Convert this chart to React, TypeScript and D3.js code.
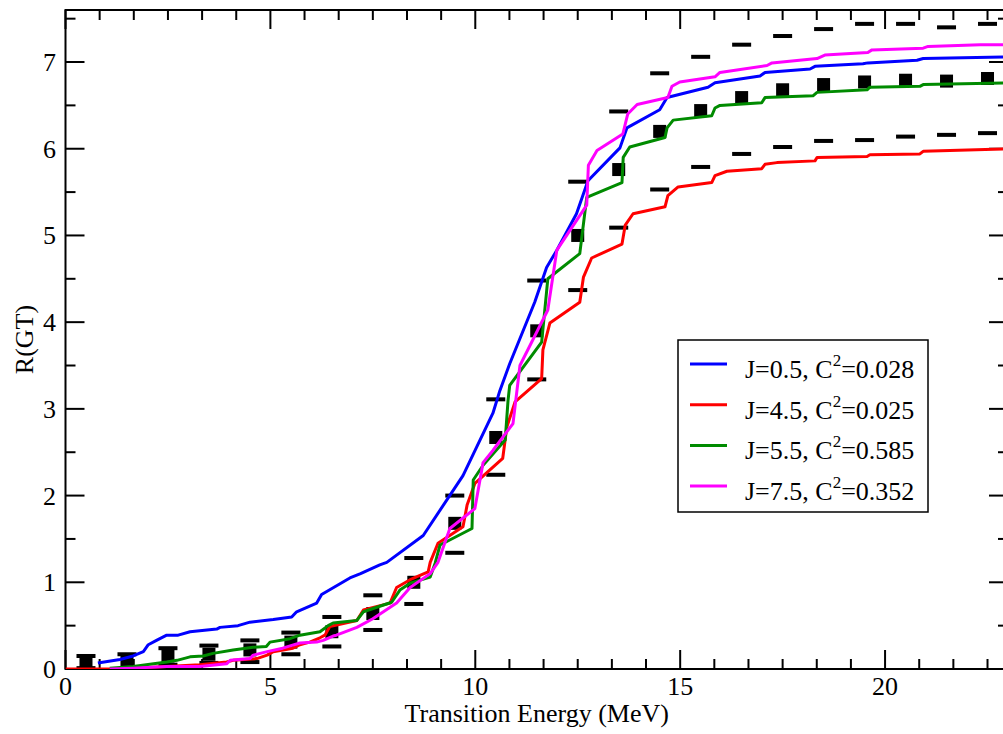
import React from "react";
import * as d3 from "d3";

// Cumulative Gamow-Teller strength curves for each initial spin (x: MeV, y: R(GT))
const blueJ05: [number, number][] = [
  [0.79,0.07],[1.33,0.11],[1.65,0.15],[1.9,0.2],[2.02,0.28],[2.22,0.33],[2.47,0.39],[2.75,0.39],[3.04,0.43],[3.69,0.46],[3.77,0.48],[4.21,0.5],[4.5,0.54],[5.07,0.57],[5.52,0.6],[5.64,0.66],[6.13,0.76],[6.25,0.86],[6.94,1.05],[7.2,1.1],[7.67,1.2],[7.84,1.23],[8.73,1.54],[9.7,2.23],[10.43,2.95],[10.6,3.21],[10.84,3.52],[11.45,4.23],[11.74,4.63],[11.99,4.83],[12.47,5.25],[12.75,5.63],[13.53,6.01],[13.7,6.24],[14.5,6.45],[14.68,6.59],[15.68,6.71],[15.85,6.76],[16.95,6.84],[17.07,6.88],[18.17,6.92],[18.29,6.95],[19.46,6.98],[19.58,6.99],[20.78,7.02],[20.93,7.04],[23,7.06]
];
const redJ45: [number, number][] = [
  [0,0],[1.08,0],[1.65,0.01],[2.47,0.03],[3.28,0.05],[3.93,0.08],[4.09,0.1],[4.67,0.12],[4.92,0.16],[5.07,0.2],[5.55,0.24],[5.72,0.28],[5.96,0.31],[6.21,0.36],[6.33,0.39],[6.45,0.49],[7.11,0.56],[7.27,0.68],[7.92,0.76],[8.08,0.94],[8.41,1.03],[8.85,1.12],[8.9,1.23],[9.09,1.45],[9.7,1.64],[9.8,1.89],[9.99,2.14],[10.67,2.43],[10.77,2.79],[10.97,3.08],[11.62,3.35],[11.65,3.68],[11.82,3.99],[12.55,4.23],[12.64,4.52],[12.84,4.74],[13.58,4.9],[13.66,5.12],[13.85,5.25],[14.63,5.33],[14.7,5.46],[14.95,5.56],[15.77,5.61],[15.85,5.69],[16.14,5.74],[16.99,5.77],[17.07,5.82],[17.36,5.84],[18.29,5.86],[18.34,5.9],[19.56,5.91],[19.63,5.93],[20.85,5.94],[20.93,5.97],[23,6.0]
];
const greenJ55: [number, number][] = [
  [1.08,0.01],[1.65,0.03],[2.47,0.08],[2.72,0.1],[3.04,0.14],[3.36,0.15],[3.6,0.18],[4.09,0.22],[4.58,0.25],[4.9,0.26],[4.99,0.31],[5.48,0.35],[5.72,0.39],[6.21,0.43],[6.41,0.5],[6.53,0.53],[7.11,0.56],[7.27,0.66],[7.96,0.77],[8.16,0.91],[8.41,0.99],[8.9,1.06],[9.02,1.22],[9.14,1.43],[9.92,1.62],[9.95,2.18],[10.19,2.35],[10.73,2.64],[10.8,3.1],[10.84,3.27],[11.62,3.77],[11.77,4.5],[12.55,4.79],[12.72,5.44],[13.58,5.61],[13.61,5.9],[13.77,6.02],[14.63,6.13],[14.68,6.24],[14.83,6.33],[15.77,6.38],[15.85,6.47],[15.97,6.5],[16.99,6.53],[17.07,6.59],[18.24,6.61],[18.34,6.65],[19.56,6.68],[19.63,6.71],[20.85,6.72],[20.93,6.74],[23,6.76]
];
const magentaJ75: [number, number][] = [
  [1.08,0],[1.65,0.01],[2.47,0.03],[3.28,0.03],[3.93,0.06],[4.02,0.1],[4.5,0.12],[4.58,0.16],[4.92,0.2],[5.3,0.24],[5.72,0.3],[6.13,0.31],[6.29,0.33],[6.53,0.38],[6.61,0.39],[7.11,0.48],[7.5,0.58],[8.08,0.76],[8.41,0.94],[8.9,1.1],[9.09,1.23],[9.38,1.62],[9.99,1.85],[10.19,2.38],[10.43,2.52],[10.92,2.83],[11.09,3.5],[11.77,4.14],[11.99,4.83],[12.72,5.35],[12.76,5.81],[12.97,5.98],[13.6,6.17],[13.72,6.4],[13.95,6.51],[14.7,6.59],[14.8,6.72],[14.99,6.77],[15.85,6.83],[15.97,6.88],[17.12,6.96],[17.24,6.99],[18.34,7.04],[18.53,7.08],[19.58,7.11],[19.68,7.14],[20.93,7.16],[21.05,7.18],[22.32,7.2],[23,7.2]
];

// Binned reference values with their upper and lower bounds
const binEnergy = [0.5,1.5,2.5,3.5,4.5,5.5,6.5,7.5,8.5,9.5,10.5,11.5,12.5,13.5,14.5,15.5,16.5,17.5,18.5,19.5,20.5,21.5,22.5];
const binMean = [0.07,0.08,0.15,0.17,0.22,0.31,0.43,0.64,1.0,1.68,2.67,3.9,5.0,5.76,6.2,6.44,6.59,6.68,6.74,6.77,6.79,6.78,6.81];
const binUpper = [0.15,0.17,0.24,0.27,0.33,0.42,0.6,0.85,1.28,2.0,3.11,4.48,5.62,6.43,6.87,7.06,7.2,7.3,7.38,7.44,7.44,7.4,7.44];
const binLower = [0.01,0.0,0.05,0.07,0.08,0.17,0.26,0.45,0.75,1.34,2.24,3.34,4.37,5.09,5.53,5.79,5.94,6.02,6.09,6.1,6.14,6.16,6.18];

const seriesJ = ["0.5", "4.5", "5.5", "7.5"];
const seriesC2 = ["0.028", "0.025", "0.585", "0.352"];
const seriesColors = ["#0000ff", "#ff0000", "#008b00", "#ff00ff"];
const seriesData = [blueJ05, redJ45, greenJ55, magentaJ75];

const xMajor = [0, 5, 10, 15, 20];
const yMajor = [0, 1, 2, 3, 4, 5, 6, 7];

const W = 1003, H = 734;
const M = { left: 65.5, right: 1008, top: 10, bottom: 669 };
const FONT = "'Liberation Serif', 'DejaVu Serif', serif";
const FS = 26;

export default function App() {
  const x = d3.scaleLinear().domain([0, 23]).range([M.left, M.right]);
  const y = d3.scaleLinear().domain([0, 7.6]).range([M.bottom, M.top]);
  const line = d3.line<[number, number]>().x(d => x(d[0])).y(d => y(d[1]));

  const xMinor = d3.range(0, 23.0001, 5 / 6).filter(v => !xMajor.some(m => Math.abs(m - v) < 1e-6));
  const yMinor = d3.range(0.5, 7.6, 1);

  const major = 19, minor = 10;

  return (
    <svg width={W} height={H} style={{ position: "absolute", left: 0, top: 0, background: "#fff" }}>
      <defs>
        <clipPath id="plotArea">
          <rect x={M.left} y={M.top} width={M.right - M.left} height={M.bottom - M.top} />
        </clipPath>
      </defs>

      {/* frame */}
      <rect x={M.left} y={M.top} width={M.right - M.left} height={M.bottom - M.top} fill="none" stroke="#000" strokeWidth={2} />

      {/* x ticks, bottom and top, pointing inward */}
      {xMajor.map(v => (
        <g key={"xM" + v}>
          <line x1={x(v)} x2={x(v)} y1={M.bottom} y2={M.bottom - major} stroke="#000" strokeWidth={2} />
          <line x1={x(v)} x2={x(v)} y1={M.top} y2={M.top + major} stroke="#000" strokeWidth={2} />
          <text x={x(v)} y={695} textAnchor="middle" fontFamily={FONT} fontSize={FS}>{v}</text>
        </g>
      ))}
      {xMinor.map(v => (
        <g key={"xm" + v}>
          <line x1={x(v)} x2={x(v)} y1={M.bottom} y2={M.bottom - minor} stroke="#000" strokeWidth={2} />
          <line x1={x(v)} x2={x(v)} y1={M.top} y2={M.top + minor} stroke="#000" strokeWidth={2} />
        </g>
      ))}

      {/* y ticks, left and right */}
      {yMajor.map(v => (
        <g key={"yM" + v}>
          <line x1={M.left} x2={M.left + major} y1={y(v)} y2={y(v)} stroke="#000" strokeWidth={2} />
          <line x1={M.right} x2={M.right - major} y1={y(v)} y2={y(v)} stroke="#000" strokeWidth={2} />
          <text x={56} y={y(v) + 9} textAnchor="end" fontFamily={FONT} fontSize={FS}>{v}</text>
        </g>
      ))}
      {yMinor.map(v => (
        <g key={"ym" + v}>
          <line x1={M.left} x2={M.left + minor} y1={y(v)} y2={y(v)} stroke="#000" strokeWidth={2} />
          <line x1={M.right} x2={M.right - minor} y1={y(v)} y2={y(v)} stroke="#000" strokeWidth={2} />
        </g>
      ))}

      {/* axis titles */}
      <text x={(M.left + M.right) / 2} y={722} textAnchor="middle" fontFamily={FONT} fontSize={FS}>Transition Energy (MeV)</text>
      <text transform={`translate(33, ${(M.top + M.bottom) / 2}) rotate(-90)`} textAnchor="middle" fontFamily={FONT} fontSize={FS}>R(GT)</text>

      <g clipPath="url(#plotArea)">
        {/* binned values: bounds as short bars, mean as filled squares */}
        {binEnergy.map((e, i) => (
          <g key={"b" + i}>
            <rect x={x(e) - 9.5} y={y(binUpper[i]) - 2} width={19} height={4} fill="#000" />
            <rect x={x(e) - 9.5} y={y(binLower[i]) - 2} width={19} height={4} fill="#000" />
            <rect x={x(e) - 6.5} y={y(binMean[i]) - 6.5} width={13} height={13} fill="#000" />
          </g>
        ))}
        {seriesData.map((d, i) => (
          <path key={"s" + i} d={line(d) ?? ""} fill="none" stroke={seriesColors[i]} strokeWidth={3} strokeLinejoin="round" />
        ))}
      </g>

      {/* legend */}
      <rect x={678} y={340} width={250} height={172} fill="#fff" stroke="#000" strokeWidth={1.5} />
      {seriesJ.map((j, i) => {
        const ly = 364 + i * 40.7;
        return (
          <g key={"l" + i}>
            <line x1={690} x2={727} y1={ly} y2={ly} stroke={seriesColors[i]} strokeWidth={3} />
            <text x={745} y={ly + 14} fontFamily={FONT} fontSize={FS}>
              {`J=${j}, C`}
              <tspan dy={-12} fontSize={17}>2</tspan>
              <tspan dy={12}>{`=${seriesC2[i]}`}</tspan>
            </text>
          </g>
        );
      })}
    </svg>
  );
}
